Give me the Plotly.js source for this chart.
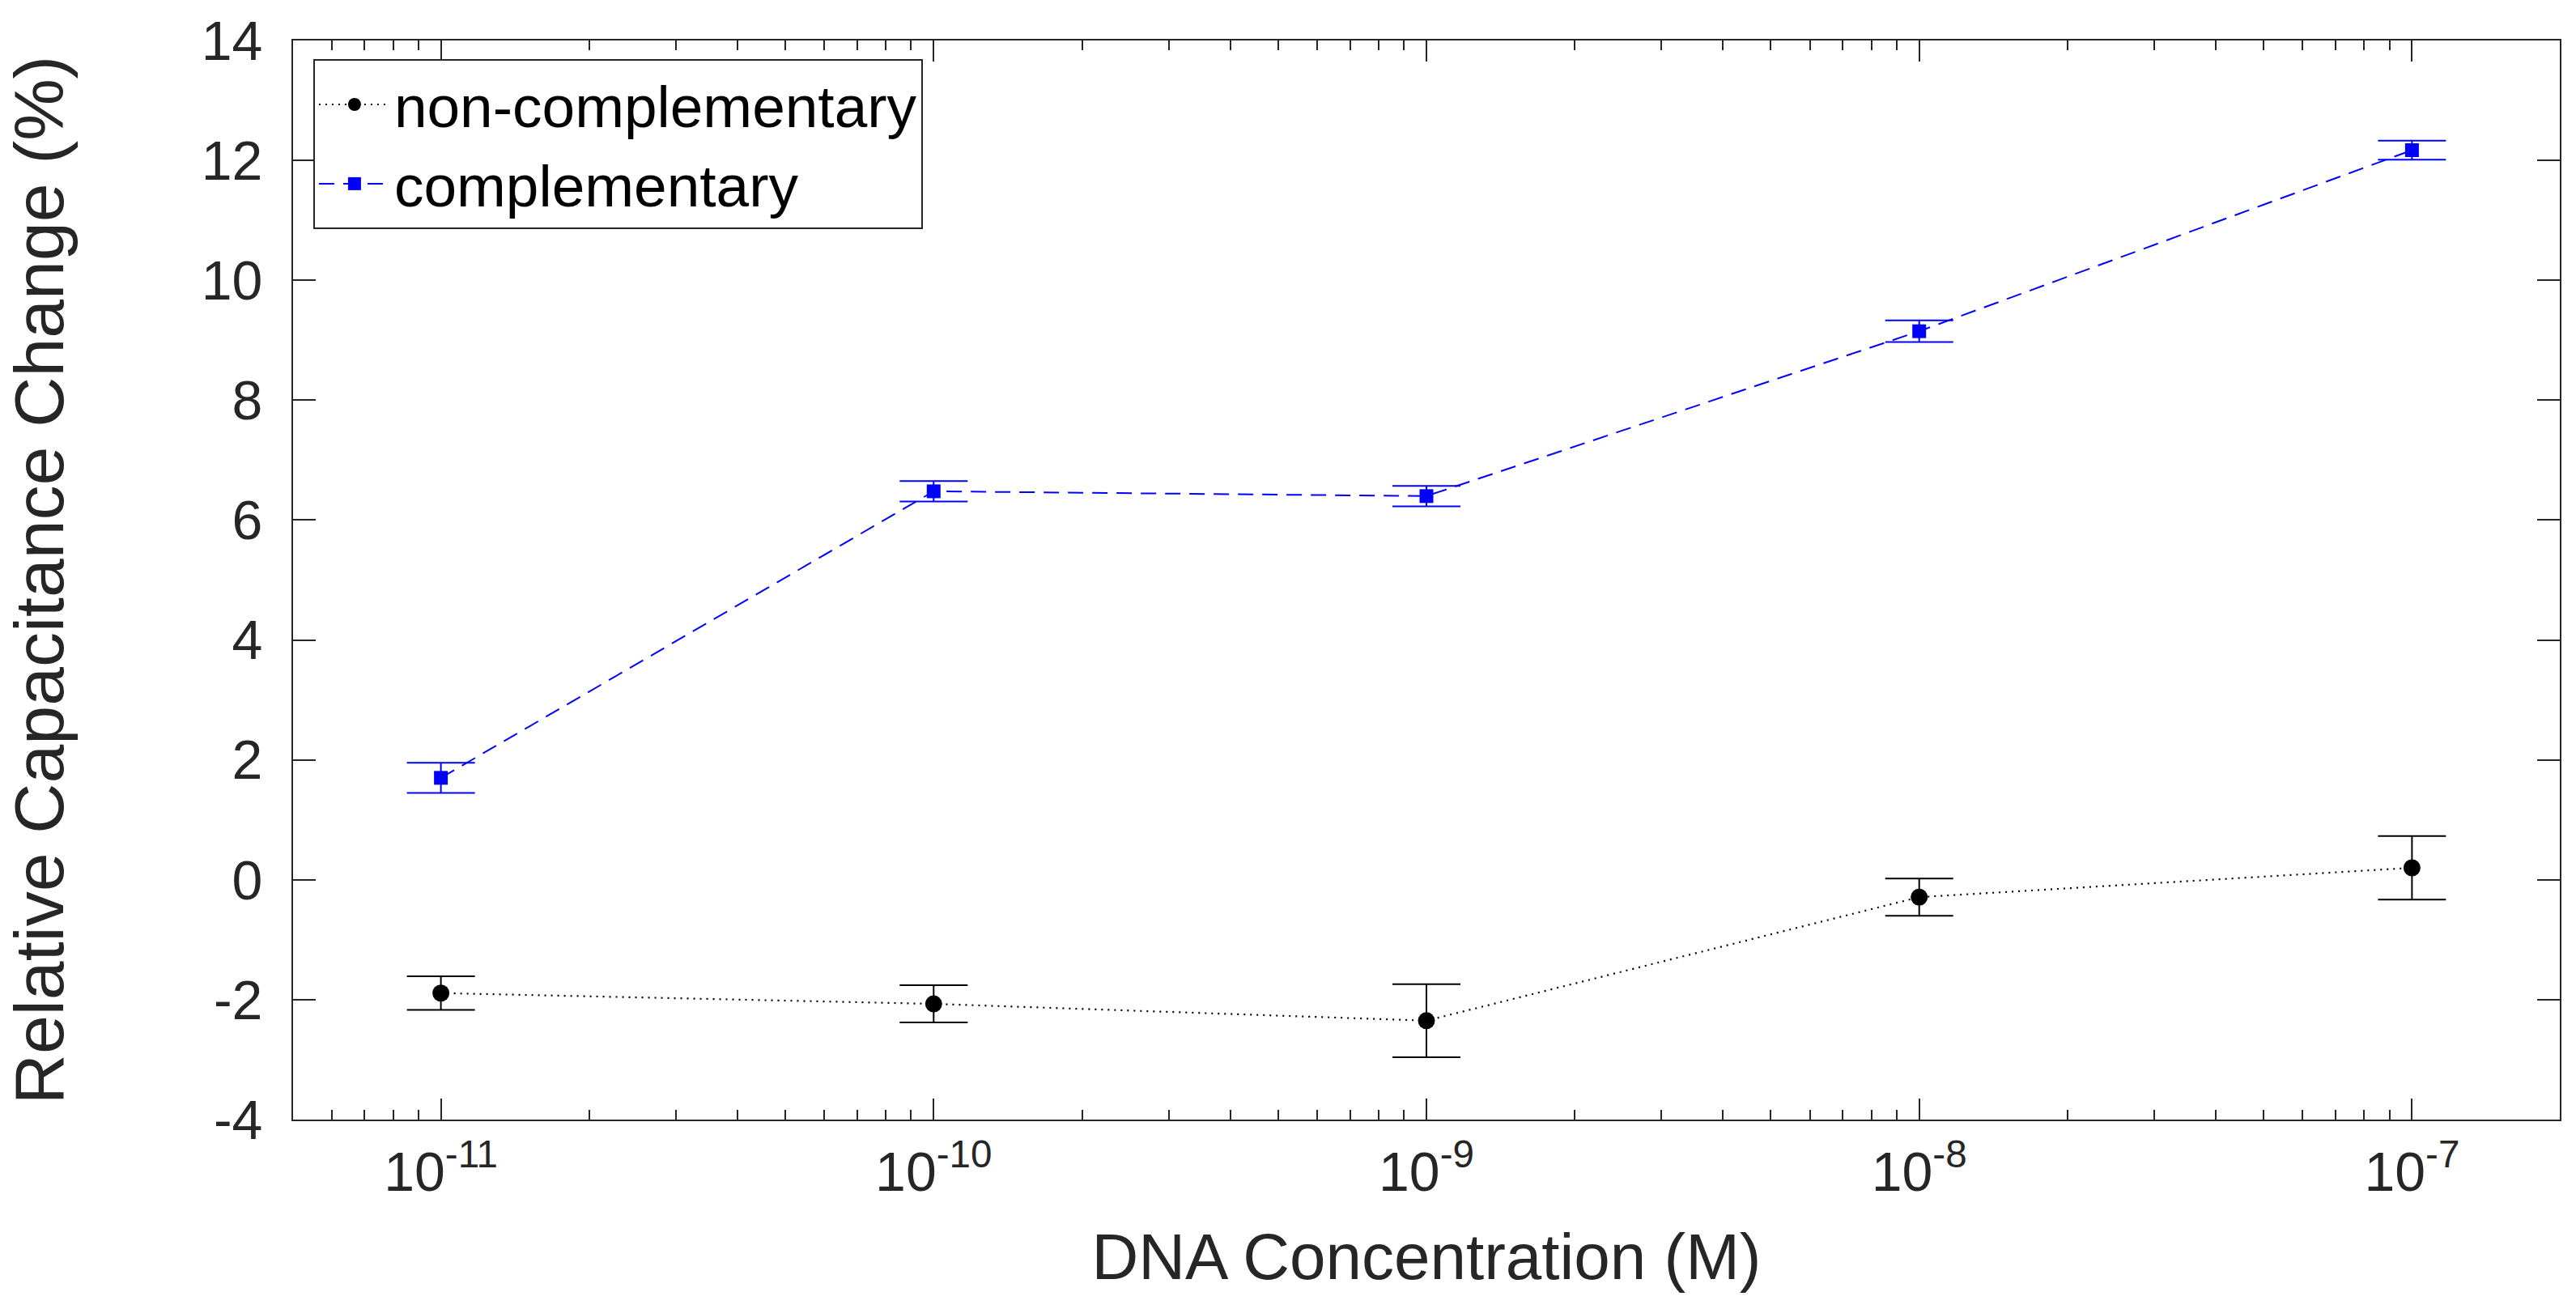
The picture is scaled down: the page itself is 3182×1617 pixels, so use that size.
<!DOCTYPE html>
<html>
<head>
<meta charset="utf-8">
<script src="https://cdn.plot.ly/plotly-3.0.1.min.js"></script>
<style>html,body{margin:0;padding:0;background:#fff;}#chart{width:3182px;height:1617px;}</style>
</head>
<body>
<div id="chart"></div>
<script>
// Data
const concentrations = [1e-11, 1e-10, 1e-9, 1e-8, 1e-7];
const nonCompValues = [-1.89, -2.07, -2.35, -0.29, 0.20];
const nonCompErrors = [0.28, 0.31, 0.61, 0.31, 0.53];
const compValues = [1.70, 6.48, 6.40, 9.15, 12.17];
const compErrors = [0.25, 0.17, 0.17, 0.18, 0.16];
const xTickVals = [1e-11, 1e-10, 1e-9, 1e-8, 1e-7];
const xTickText = ['10<sup>-11</sup>', '10<sup>-10</sup>', '10<sup>-9</sup>', '10<sup>-8</sup>', '10<sup>-7</sup>'];
const yTickVals = [-4, -2, 0, 2, 4, 6, 8, 10, 12, 14];
const yTickText = ['-4', '-2', '0', '2', '4', '6', '8', '10', '12', '14'];

const FONT = 'Liberation Sans, Arial, Helvetica, sans-serif';
const AX = '#262626';

const traces = [
  {
    name: 'non-complementary',
    x: concentrations, y: nonCompValues,
    mode: 'lines+markers',
    line: {color: 'black', width: 2.2, dash: '2px,6px'},
    marker: {symbol: 'circle', size: 21, color: 'black'},
    error_y: {type: 'data', array: nonCompErrors, visible: true, color: 'black', thickness: 2, width: 42}
  },
  {
    name: 'complementary',
    x: concentrations, y: compValues,
    mode: 'lines+markers',
    line: {color: '#0000ff', width: 2, dash: '19px,11px'},
    marker: {symbol: 'square', size: 17, color: '#0000ff'},
    error_y: {type: 'data', array: compErrors, visible: true, color: '#0000ff', thickness: 2, width: 42}
  }
];

const layout = {
  width: 3182, height: 1617,
  margin: {l: 362, r: 20, t: 50, b: 234},
  paper_bgcolor: 'white', plot_bgcolor: 'white',
  font: {family: FONT, color: AX, size: 68},
  showlegend: true,
  legend: {
    x: 0.0089, y: 0.9827, xanchor: 'left', yanchor: 'top',
    bgcolor: 'white', bordercolor: AX, borderwidth: 2,
    font: {family: FONT, size: 73, color: 'black'},
    itemwidth: 88, tracegroupgap: 0
  },
  xaxis: {
    type: 'log', range: [-11.3, -6.7],
    tickvals: xTickVals, ticktext: xTickText,
    ticks: 'inside', ticklen: 26, tickwidth: 2, tickcolor: AX,
    minor: {ticks: 'inside', ticklen: 12, tickwidth: 2, tickcolor: AX, dtick: 'D1', showgrid: false},
    showline: true, linecolor: AX, linewidth: 2, mirror: 'ticks',
    showgrid: false, zeroline: false,
    tickfont: {family: FONT, size: 68, color: AX},
    ticklabelstandoff: 4,
    title: {text: 'DNA Concentration (M)', font: {family: FONT, size: 80, color: AX}, standoff: 40}
  },
  yaxis: {
    range: [-4, 14],
    tickvals: yTickVals, ticktext: yTickText,
    ticks: 'inside', ticklen: 28, tickwidth: 2, tickcolor: AX,
    showline: true, linecolor: AX, linewidth: 2, mirror: 'ticks',
    showgrid: false, zeroline: false,
    tickfont: {family: FONT, size: 68, color: AX},
    ticklabelstandoff: 22,
    title: {text: 'Relative Capacitance Change (%)', font: {family: FONT, size: 86, color: AX}, standoff: 178}
  }
};

Plotly.newPlot('chart', traces, layout, {displayModeBar: false, staticPlot: true});
</script>
</body>
</html>
